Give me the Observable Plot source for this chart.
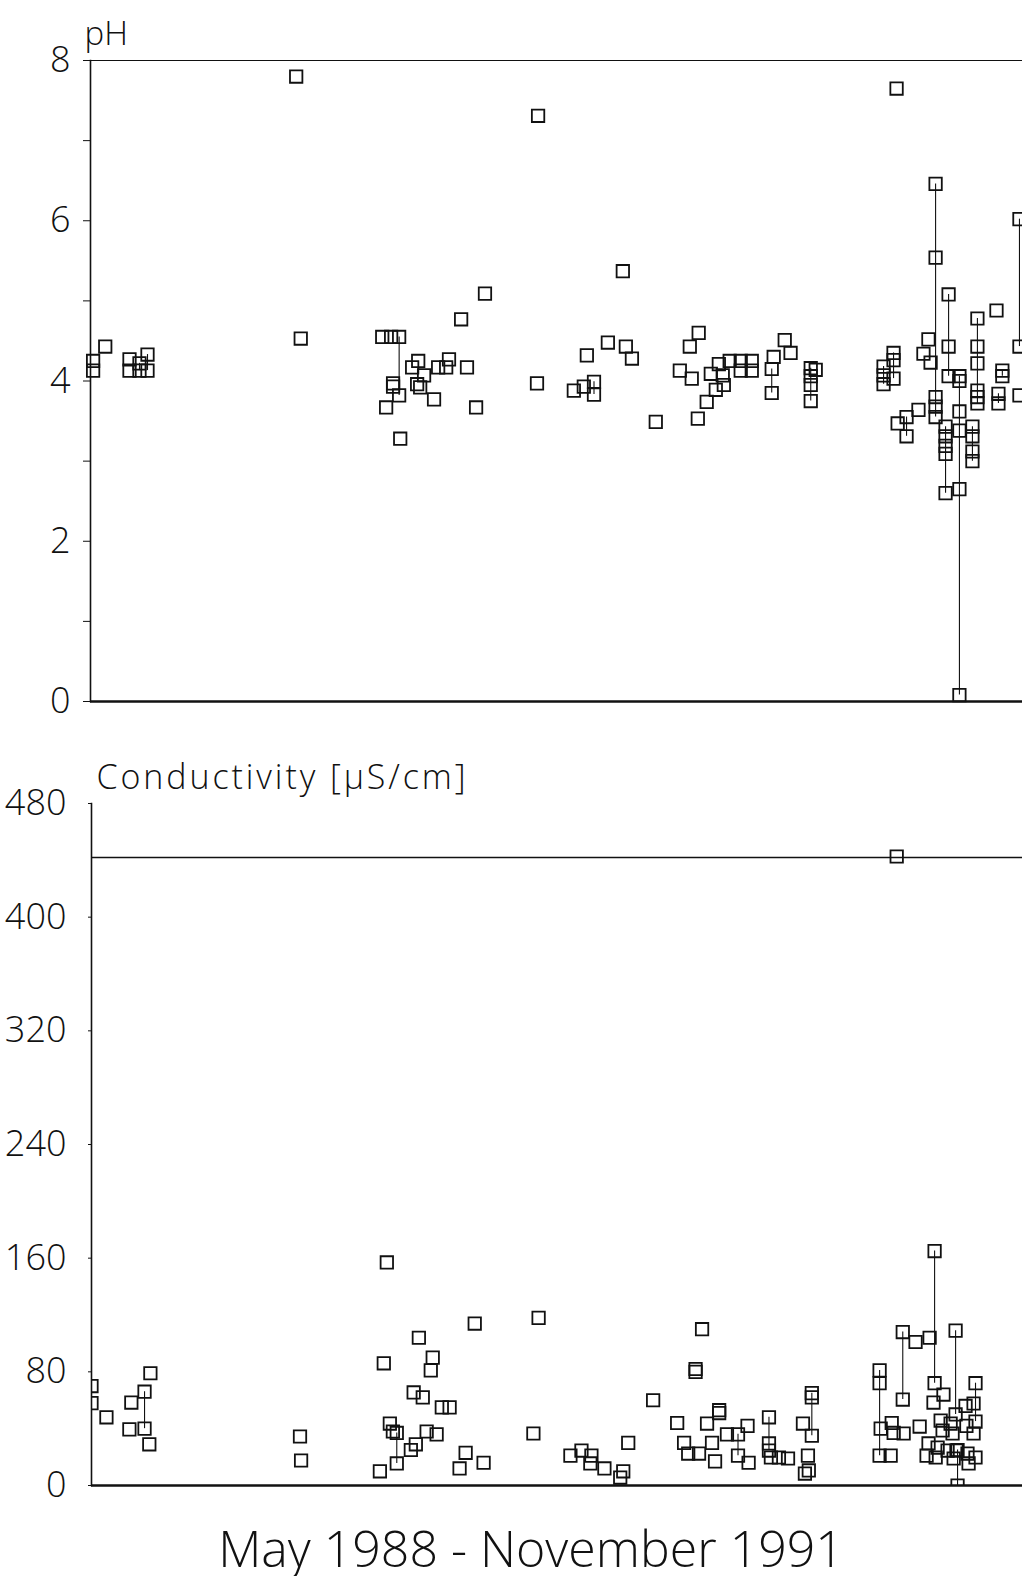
<!DOCTYPE html>
<html>
<head>
<meta charset="utf-8">
<script src="https://cdn.jsdelivr.net/npm/d3@7"></script>
<script src="https://cdn.jsdelivr.net/npm/@observablehq/plot@0.6"></script>
<style>
  body { margin: 0; background: #fff; width: 1022px; }
  #cap { font-family: "Open Sans", "DejaVu Sans", sans-serif; font-weight: 300; font-size: 50px; line-height: 56px; height: 56px;
         text-align: center; padding-left: 40px; margin-top: 10px; color: #111; }
  svg { display: block; overflow: visible; }
</style>
</head>
<body>
<div id="top"></div>
<div id="bottom"></div>
<div id="cap">May 1988 - November 1991</div>
<script>
// x: months since 1 May 1988 (May 1988 – November 1991)
const monthDomain = [0, 43];

// ---- pH samples (month, value) ----
const phMonth = [
  0.12, 0.12, 0.68, 1.80, 1.80, 2.26, 2.26, 2.63, 2.63,
  9.49, 9.70,
  13.46, 13.87, 14.24, 14.24, 13.96, 13.96, 13.64, 14.29,
  14.84, 15.07, 15.12, 15.21, 15.39, 15.85, 16.04, 16.41, 16.54, 17.10, 17.37, 17.79, 18.20,
  20.65, 20.60,
  22.30, 22.76, 23.23, 23.23, 22.90, 23.87, 24.56, 24.70, 24.98, 26.08,
  27.19, 27.65, 28.06, 27.74, 28.02, 28.43, 28.62, 28.85, 28.99, 29.17, 29.22, 29.49,
  30.00, 30.00, 30.51, 30.51, 31.43, 31.43, 31.52, 32.03, 32.30,
  33.23, 33.23, 33.23, 33.23, 33.46,
  37.19, 36.59, 36.59, 36.59, 37.05, 37.05, 37.05, 37.24, 37.65, 37.65, 38.20,
  38.43, 38.66, 38.76,
  38.99, 38.99, 38.99, 38.99, 38.99,
  39.45, 39.45, 39.45, 39.45, 39.45,
  39.59, 39.59, 39.59,
  40.09, 40.09, 40.09, 40.09, 40.09, 40.09,
  40.69, 40.69, 40.69, 40.69,
  40.92, 40.92, 40.92, 40.92, 40.92, 40.92,
  41.80, 42.07, 42.07, 41.89, 41.89,
  42.86, 42.86, 42.86
];
const phValue = [
  4.25, 4.13, 4.43, 4.27, 4.13, 4.22, 4.13, 4.33, 4.13,
  7.80, 4.53,
  4.55, 4.55, 4.55, 3.82, 3.97, 3.93, 3.67, 3.28,
  4.17, 3.96, 4.25, 3.92, 4.07, 3.77, 4.17, 4.17, 4.27, 4.77, 4.17, 3.67, 5.09,
  7.31, 3.97,
  3.88, 3.93, 3.99, 3.83, 4.32, 4.48, 5.37, 4.43, 4.28, 3.49,
  4.13, 4.43, 4.60, 4.03, 3.53, 3.74, 4.09, 3.89, 4.21, 4.07, 3.95, 4.25,
  4.25, 4.13, 4.25, 4.13, 4.15, 3.85, 4.30, 4.51, 4.35,
  4.16, 4.06, 3.95, 3.75, 4.14,
  7.65, 4.18, 4.07, 3.96, 4.35, 4.26, 4.03, 3.47, 3.55, 3.31, 3.64,
  4.34, 4.52, 4.23,
  6.46, 5.54, 3.80, 3.68, 3.55,
  3.43, 3.31, 3.19, 3.09, 2.60,
  5.08, 4.43, 4.06,
  4.06, 4.00, 3.62, 3.38, 2.65, 0.08,
  3.43, 3.31, 3.12, 3.00,
  4.78, 4.43, 4.22, 3.88, 3.80, 3.72,
  4.88, 4.13, 4.06, 3.84, 3.72,
  6.02, 4.43, 3.82
];
// vertical connectors between samples of the same day
const phRangeMonth = [2.26, 2.63, 14.24, 23.23, 31.43, 33.23, 36.59, 37.05, 37.65, 38.99, 39.45, 39.59, 40.09, 40.69, 40.92, 41.89, 42.07, 42.86];
const phRangeLow   = [4.13, 4.13, 3.82, 3.83, 3.85, 3.75, 3.96, 4.03, 3.31, 3.55, 2.60, 4.06, 0.08, 3.00, 3.72, 3.72, 4.06, 4.43];
const phRangeHigh  = [4.22, 4.33, 4.55, 3.99, 4.15, 4.16, 4.18, 4.35, 3.55, 6.46, 3.43, 5.08, 4.06, 3.43, 4.78, 3.84, 4.13, 6.02];
const phTicks  = [0, 1, 2, 3, 4, 5, 6, 7, 8];
const phLabels = [0, 2, 4, 6, 8];

// ---- Conductivity samples (month, µS/cm) ----
const condMonth = [
  0.00, 0.00, 0.69, 1.75, 1.84, 2.45, 2.45, 2.67, 2.72,
  9.63, 9.68,
  13.32, 13.50, 13.64, 13.78, 13.92, 14.10, 14.10, 14.75, 14.98, 15.12, 14.88, 15.30,
  15.48, 15.94, 15.67, 15.76, 16.18, 16.54, 17.00, 17.28, 17.70, 18.11,
  20.41, 20.65,
  22.12, 22.63, 23.09, 23.04, 23.69, 24.56, 24.42, 24.79, 25.94,
  27.05, 27.37, 27.56, 27.90, 27.90, 28.20, 28.06, 28.43, 28.66, 28.80, 28.99, 28.99,
  29.35, 29.86, 29.86, 30.30, 30.35, 31.29, 31.29, 31.29, 31.38, 31.75, 32.17,
  32.86, 33.27, 33.27, 33.27, 33.09, 33.13, 32.95,
  36.40, 36.40, 36.40, 36.45, 36.91, 36.96, 37.05, 37.19, 37.47, 37.47, 37.51,
  38.06, 38.25, 38.71, 38.94, 38.94, 38.89, 39.35, 39.22, 39.31, 38.66, 39.08, 39.54,
  38.57, 38.99, 39.68, 39.77, 39.91, 39.91, 39.95, 39.82, 40.00, 40.00,
  40.41, 40.74, 40.74, 40.37, 40.83, 40.83, 40.83, 40.46, 40.51
];
const condValue = [
  70, 58, 48, 39.5, 58.4, 66, 40, 29, 79,
  34.5, 17.6,
  10, 86, 157, 43.6, 38, 37, 15.5, 25, 29, 104, 65.5, 62,
  38, 36, 81, 90, 55, 55, 12, 23, 114, 16,
  36.6, 118,
  21, 24.6, 21, 15.5, 12, 10, 5.6, 30, 60,
  44, 30, 22.5, 82, 80, 110, 22.5, 43.6, 30, 17, 53, 51,
  36, 36, 21, 42, 16, 48, 29.6, 24.6, 19.7, 19.7, 19,
  43.6, 65, 62, 35, 21, 10.6, 8.4,
  81, 72, 21, 40, 21, 44, 37, 442.7, 108, 60.5, 36.6,
  101, 41.5, 104, 165, 72, 58.4, 64, 45.7, 38.7, 29.6, 26.7, 24.6,
  21, 19.7, 43.6, 36.6, 109, 50, 24.6, 19, 25, 0,
  42, 36.6, 57.7, 56, 72, 45, 19.7, 22.5, 15.5
];
const condRangeMonth = [2.45, 14.10, 29.86, 31.29, 33.27, 36.40, 37.47, 38.94, 39.91, 40.00, 40.83];
const condRangeLow   = [40, 15.5, 21, 24.6, 35, 21, 60.5, 72, 50, 0, 45];
const condRangeHigh  = [66, 37, 36, 48, 65, 81, 108, 165, 109, 25, 72];
const condReference = [442];
const condTicks = [0, 80, 160, 240, 320, 400, 480];

const font = "Open Sans, DejaVu Sans, sans-serif";
const ph = phMonth.map((m, i) => ({month: m, value: phValue[i]}));
const phR = phRangeMonth.map((m, i) => ({month: m, lo: phRangeLow[i], hi: phRangeHigh[i]}));
const cond = condMonth.map((m, i) => ({month: m, value: condValue[i]}));
const condR = condRangeMonth.map((m, i) => ({month: m, lo: condRangeLow[i], hi: condRangeHigh[i]}));

const squareStyle = {symbol: "square", r: 7, stroke: "#111", strokeWidth: 1.8, fill: "none"};

const topPlot = Plot.plot({
  width: 1022, height: 730,
  marginLeft: 90, marginRight: 0, marginTop: 60, marginBottom: 29,
  x: {domain: monthDomain, axis: null},
  y: {domain: [0, 8], axis: null},
  style: {fontFamily: font, fontWeight: 300, background: "white", color: "#111"},
  marks: [
    Plot.ruleY([8], {stroke: "#111", strokeWidth: 1.2, insetLeft: -5}),
    Plot.frame({anchor: "left", stroke: "#111", strokeWidth: 1.6}),
    Plot.ruleY([0], {stroke: "#111", strokeWidth: 2.4}),
    Plot.axisY({ticks: phTicks, tickSize: 7, tickFormat: () => "", stroke: "#111"}),
    Plot.axisY({ticks: phLabels, tickSize: 0, tickPadding: 20, fontSize: 36, fontWeight: 300, fill: "#111"}),
    Plot.ruleX(phR, {x: "month", y1: "lo", y2: "hi", stroke: "#111", strokeWidth: 1.1}),
    Plot.dot(ph, {x: "month", y: "value", ...squareStyle}),
    Plot.text(["pH"], {frameAnchor: "top-left", textAnchor: "start", dx: -6, dy: -39, fontSize: 33, fontWeight: 300, fill: "#111"})
  ]
});
document.getElementById("top").append(topPlot);

const bottomPlot = Plot.plot({
  width: 1022, height: 780,
  marginLeft: 91, marginRight: 0, marginTop: 73, marginBottom: 25,
  x: {domain: monthDomain, axis: null},
  y: {domain: [0, 480], axis: null},
  style: {fontFamily: font, fontWeight: 300, background: "white", color: "#111"},
  marks: [
    Plot.ruleY(condReference, {stroke: "#111", strokeWidth: 1.3}),
    Plot.frame({anchor: "left", stroke: "#111", strokeWidth: 1.6}),
    Plot.ruleY([0], {stroke: "#111", strokeWidth: 2.4}),
    Plot.axisY({ticks: condTicks, tickSize: 3, tickPadding: 22, fontSize: 36, fontWeight: 300, fill: "#111", stroke: "#111"}),
    Plot.ruleX(condR, {x: "month", y1: "lo", y2: "hi", stroke: "#111", strokeWidth: 1.1}),
    Plot.dot(cond, {x: "month", y: "value", ...squareStyle, clip: true}),
    Plot.text(["Conductivity [µS/cm]"], {frameAnchor: "top-left", textAnchor: "start", dx: 5, dy: -39, fontSize: 34, fontWeight: 300, fill: "#111", className: "condlabel"})
  ]
});
document.getElementById("bottom").append(bottomPlot);
d3.select(bottomPlot).selectAll(".condlabel text").attr("letter-spacing", "2.9px");
</script>
</body>
</html>
